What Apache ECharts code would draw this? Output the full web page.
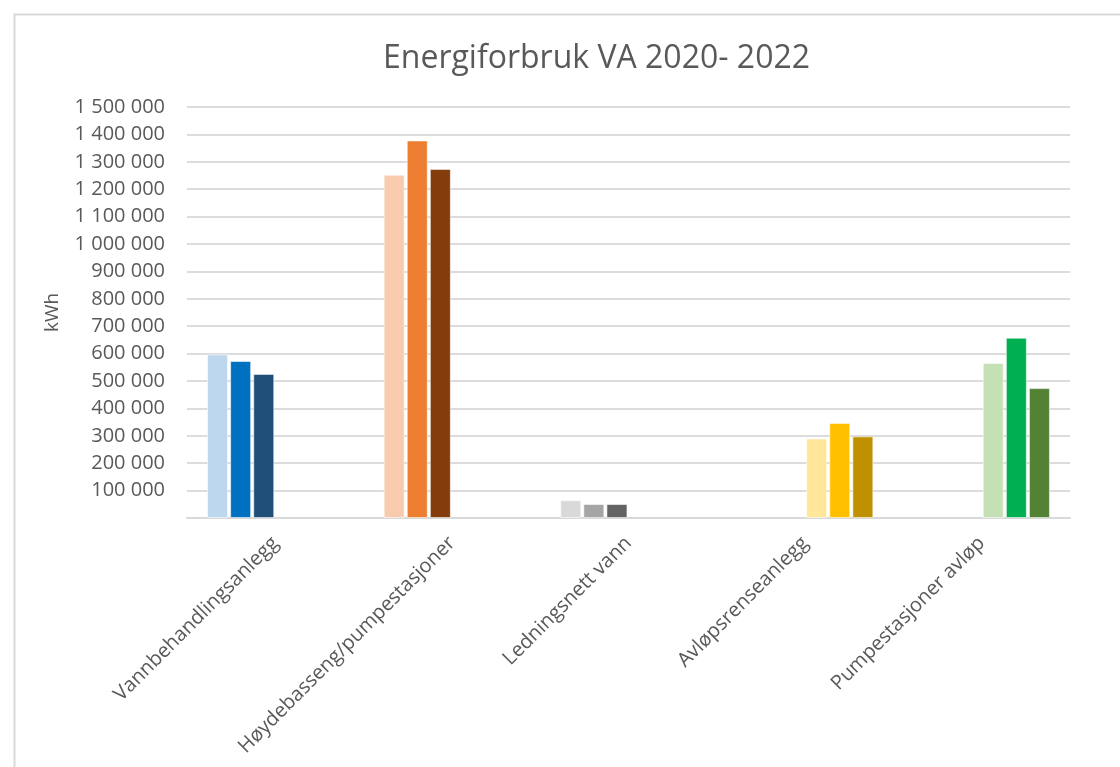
<!DOCTYPE html>
<html>
<head>
<meta charset="utf-8">
<script src="https://cdn.jsdelivr.net/npm/echarts@6/dist/echarts.min.js"></script>
<style>
html,body{margin:0;padding:0;background:#fff;}
#chart{width:1120px;height:767px;}
</style>
</head>
<body>
<div id="chart"></div>
<script>
// ---- Data ----
const categories = ['Vannbehandlingsanlegg', 'Høydebasseng/pumpestasjoner', 'Ledningsnett vann', 'Avløpsrenseanlegg', 'Pumpestasjoner avløp'];
const years = ['2020', '2021', '2022'];
const values2020 = [597000, 1253000, 65000, 290000, 566000];
const values2021 = [573000, 1378000, 51000, 347000, 658000];
const values2022 = [526000, 1274000, 51000, 298000, 474000];
const yTickMin = 0;
const yTickMax = 1500000;
const yTickStep = 100000;
const titleText = 'Energiforbruk VA 2020- 2022';
const yAxisTitle = 'kWh';

// ---- Styles ----
const palette = [
  ['#BDD7EE', '#0070C0', '#1F4E79'],
  ['#F8CBAD', '#ED7D31', '#843C0C'],
  ['#D9D9D9', '#A5A5A5', '#636363'],
  ['#FFE699', '#FFC000', '#BF9000'],
  ['#C5E0B4', '#00B050', '#548235']
];
// categories 0-2 use slots 0-2, categories 3-4 use slots 3-5 (as in the source chart)
const slotOffset = [0, 0, 0, 3, 3];
const textColor = '#595959';
const fontFamily = '"Open Sans", "Noto Sans", sans-serif';

const yearValues = [values2020, values2021, values2022];
const series = [];
for (let s = 0; s < 6; s++) {
  const data = categories.map((c, ci) => {
    const yi = s - slotOffset[ci];
    if (yi < 0 || yi > 2) return null;
    return { value: yearValues[yi][ci], itemStyle: { color: palette[ci][yi] } };
  });
  series.push({
    type: 'bar',
    name: 'slot' + s,
    data: data,
    barWidth: 21,
    barGap: '10%',
    itemStyle: { borderColor: 'rgba(255,255,255,0.55)', borderWidth: 1 },
    emphasis: { disabled: true }
  });
}

function fmt(v) {
  if (v === 0) return '';
  return String(v).replace(/\B(?=(\d{3})+(?!\d))/g, ' ');
}

const chart = echarts.init(document.getElementById('chart'));
chart.setOption({
  animation: false,
  backgroundColor: '#fff',
  textStyle: { fontFamily: fontFamily },
  title: {
    text: titleText,
    left: 378,
    top: 38,
    textStyle: { fontFamily: fontFamily, fontSize: 32, fontWeight: 'normal', color: textColor }
  },
  graphic: [{
    type: 'rect',
    left: 12, top: 12,
    shape: { width: 1130, height: 780 },
    style: { fill: 'none', stroke: '#D9D9D9', lineWidth: 2 },
    silent: true
  }],
  grid: { left: 187, right: 50, top: 107, bottom: 249, containLabel: false },
  xAxis: {
    type: 'category',
    data: categories,
    axisLine: { show: true, lineStyle: { color: '#D9D9D9', width: 2 } },
    axisTick: { show: false },
    axisLabel: {
      interval: 0, rotate: 45, margin: 22,
      fontSize: 20, color: textColor, fontFamily: fontFamily
    }
  },
  yAxis: {
    type: 'value',
    min: yTickMin, max: yTickMax, interval: yTickStep,
    name: yAxisTitle,
    nameLocation: 'middle',
    nameRotate: 90,
    nameGap: 125,
    nameTextStyle: { fontSize: 19, color: textColor, fontFamily: fontFamily },
    axisLine: { show: false },
    axisTick: { show: false },
    splitLine: { show: true, lineStyle: { color: '#DCDCDC', width: 2 } },
    axisLabel: { fontSize: 20, color: textColor, margin: 22, fontFamily: fontFamily, formatter: fmt }
  },
  series: series
});
</script>
</body>
</html>
